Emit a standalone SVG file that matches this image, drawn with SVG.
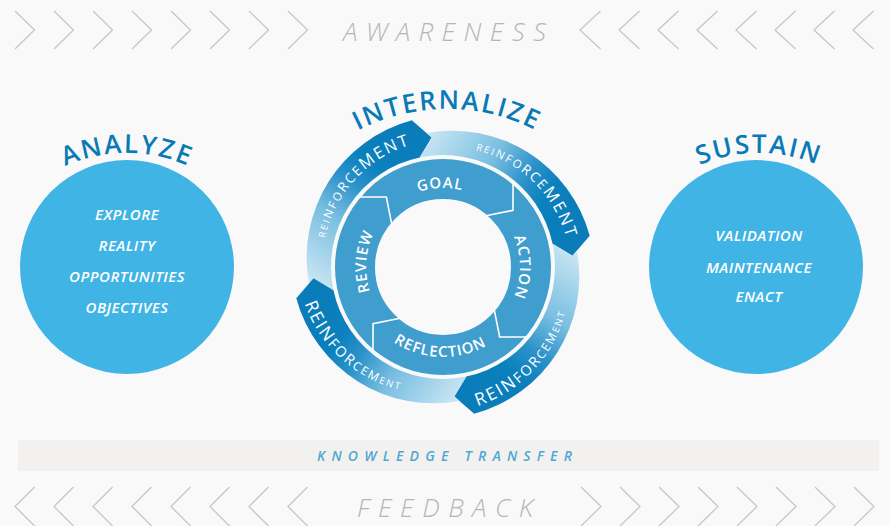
<svg xmlns="http://www.w3.org/2000/svg" width="890" height="526" viewBox="0 0 890 526">
<defs>
<style>
.f{font-family:"Open Sans","Liberation Sans",sans-serif}
.chev{fill:none;stroke:#c9c6c3;stroke-width:1.3}
.gray{font-style:italic;font-weight:300;font-size:26px;fill:#b9b5b1}
.title{font-weight:600;font-size:26px;fill:#0a7ab6;letter-spacing:2px}
.ctext{font-style:italic;font-weight:600;font-size:15px;fill:#fff;text-anchor:middle;letter-spacing:0.5px}
.ring{font-weight:600;font-size:15px;fill:#fff;letter-spacing:1px}
.rf{font-weight:500;fill:#fff;letter-spacing:2px}
.arc{fill:url(#rg)}
.cut{fill:none;stroke:#fff;stroke-width:1.6}
</style>
<linearGradient id="rg" gradientUnits="userSpaceOnUse" x1="0" y1="-125" x2="125" y2="0">
<stop offset="0" stop-color="#cfe8f5"/>
<stop offset="0.4" stop-color="#7abfe1"/>
<stop offset="0.62" stop-color="#2b92ca"/>
<stop offset="0.78" stop-color="#0a80bd"/>
<stop offset="1" stop-color="#0a7cb9"/>
</linearGradient>
<path id="arcShape" d="M0 -112L15.84 -129.03L11.72 -134.49A142.3 142.3 0 0 1 150 0L129.03 15.84L112 0A112 112 0 0 0 0 -112Z"/>
<path id="cutShape" d="M109 0L88.35 17.17L67 0"/>
<path id="pAna" d="M-23 303A150 150 0 0 1 277 303"/>
<path id="pSus" d="M609 303A150 150 0 0 1 909 303"/>
<path id="pInt" d="M252 304A195 195 0 0 1 642 304"/>
<path id="pGoal" d="M373.25 229.91A79 79 0 0 1 509.99 225.14"/>
<path id="pAction" d="M481.5 200.32A77 77 0 0 1 481.5 333.68"/>
<path id="pReview" d="M399.94 330.83A77 77 0 0 1 409.24 197.79"/>
<path id="pRefl" d="M363.54 309.26A90 90 0 0 0 519.32 314.69"/>
<path id="pTL" d="M323.18 250.16A124 124 0 0 1 425.32 141.23"/>
<path id="pTR" d="M464.01 147.84A124 124 0 0 1 568.77 249.32"/>
<path id="pBR" d="M468 408.81A134 134 0 0 0 568.17 298.21"/>
<path id="pBL" d="M301.19 292A134 134 0 0 0 411.79 392.17"/>
</defs>
<rect width="890" height="526" fill="#f9f9f9"/>

<g id="connectors">
<path class="chev" d="M15 11L34.5 30L15 49M54 11L73.5 30L54 49M93 11L112.5 30L93 49M132 11L151.5 30L132 49M171 11L190.5 30L171 49M210 11L229.5 30L210 49M249 11L268.5 30L249 49M288 11L307.5 30L288 49"/>
<path class="chev" d="M600.5 11L580 30L600.5 49M639.5 11L619 30L639.5 49M678.5 11L658 30L678.5 49M717.5 11L697 30L717.5 49M756.5 11L736 30L756.5 49M795.5 11L775 30L795.5 49M834.5 11L814 30L834.5 49M873.5 11L853 30L873.5 49"/>
<path class="chev" d="M34.5 487L15 506.5L34.5 526M73.5 487L54 506.5L73.5 526M112.5 487L93 506.5L112.5 526M151.5 487L132 506.5L151.5 526M190.5 487L171 506.5L190.5 526M229.5 487L210 506.5L229.5 526M268.5 487L249 506.5L268.5 526M307.5 487L288 506.5L307.5 526"/>
<path class="chev" d="M581 487L601 506.5L581 526M620 487L640 506.5L620 526M659 487L679 506.5L659 526M698 487L718 506.5L698 526M737 487L757 506.5L737 526M776 487L796 506.5L776 526M815 487L835 506.5L815 526M854 487L874 506.5L854 526"/>
</g>

<g id="awareness">
<text class="f gray" x="343" y="41" textLength="203" lengthAdjust="spacing">AWARENESS</text>
</g>

<g id="feedback">
<text class="f gray" x="357" y="517" textLength="176" lengthAdjust="spacing">FEEDBACK</text>
</g>

<g id="knowledge-transfer">
<rect x="18" y="440" width="861" height="31" fill="#f2f1ef"/>
<text class="f" x="317" y="461" font-size="14" font-style="italic" font-weight="600" fill="#4ea8d5" textLength="255" lengthAdjust="spacing">KNOWLEDGE TRANSFER</text>
</g>

<g id="analyze">
<circle cx="127" cy="267" r="107" fill="#41b4e6"/>
<text class="f title"><textPath href="#pAna" startOffset="50%" text-anchor="middle">ANALYZE</textPath></text>
<text class="f ctext" x="127" y="220">EXPLORE</text>
<text class="f ctext" x="127" y="251">REALITY</text>
<text class="f ctext" x="127" y="282">OPPORTUNITIES</text>
<text class="f ctext" x="127" y="313">OBJECTIVES</text>
</g>

<g id="sustain">
<circle cx="756" cy="267" r="107" fill="#41b4e6"/>
<text class="f title"><textPath href="#pSus" startOffset="50%" text-anchor="middle">SUSTAIN</textPath></text>
<text class="f ctext" x="759" y="241">VALIDATION</text>
<text class="f ctext" x="759" y="273">MAINTENANCE</text>
<text class="f ctext" x="759" y="302">ENACT</text>
</g>

<g id="internalize">
<text class="f title"><textPath href="#pInt" startOffset="50%" text-anchor="middle">INTERNALIZE</textPath></text>
<g transform="translate(443 267)">
<use href="#arcShape" class="arc" transform="rotate(258)"/>
<use href="#arcShape" class="arc" transform="rotate(348)"/>
<use href="#arcShape" class="arc" transform="rotate(78)"/>
<use href="#arcShape" class="arc" transform="rotate(168)"/>
<circle r="88" fill="none" stroke="#409ecf" stroke-width="40"/>
<use href="#cutShape" class="cut" transform="rotate(-140)"/>
<use href="#cutShape" class="cut" transform="rotate(-50)"/>
<use href="#cutShape" class="cut" transform="rotate(40)"/>
<use href="#cutShape" class="cut" transform="rotate(130)"/>
</g>
<text class="f ring"><textPath href="#pGoal" startOffset="50%" text-anchor="middle">GOAL</textPath></text>
<text class="f ring"><textPath href="#pAction" startOffset="50%" text-anchor="middle">ACTION</textPath></text>
<text class="f ring"><textPath href="#pReview" startOffset="50%" text-anchor="middle">REVIEW</textPath></text>
<text class="f ring"><textPath href="#pRefl" startOffset="50%" text-anchor="middle">REFLECTION</textPath></text>
<text class="f rf"><textPath href="#pTL" startOffset="12"><tspan font-size="9.5">REI</tspan><tspan font-size="11.5">NFO</tspan><tspan font-size="13.5">RCE</tspan><tspan font-size="16.5">MENT</tspan></textPath></text>
<text class="f rf"><textPath href="#pTR" startOffset="12"><tspan font-size="9.5">REI</tspan><tspan font-size="11.5">NFO</tspan><tspan font-size="13.5">RCE</tspan><tspan font-size="16.5">MENT</tspan></textPath></text>
<text class="f rf"><textPath href="#pBR" startOffset="10"><tspan font-size="17.5">REIN</tspan><tspan font-size="14.5">FOR</tspan><tspan font-size="12">CEM</tspan><tspan font-size="9.5">ENT</tspan></textPath></text>
<text class="f rf"><textPath href="#pBL" startOffset="12"><tspan font-size="17.5">REIN</tspan><tspan font-size="14.5">FOR</tspan><tspan font-size="12">CEM</tspan><tspan font-size="9.5">ENT</tspan></textPath></text>
</g>
</svg>
